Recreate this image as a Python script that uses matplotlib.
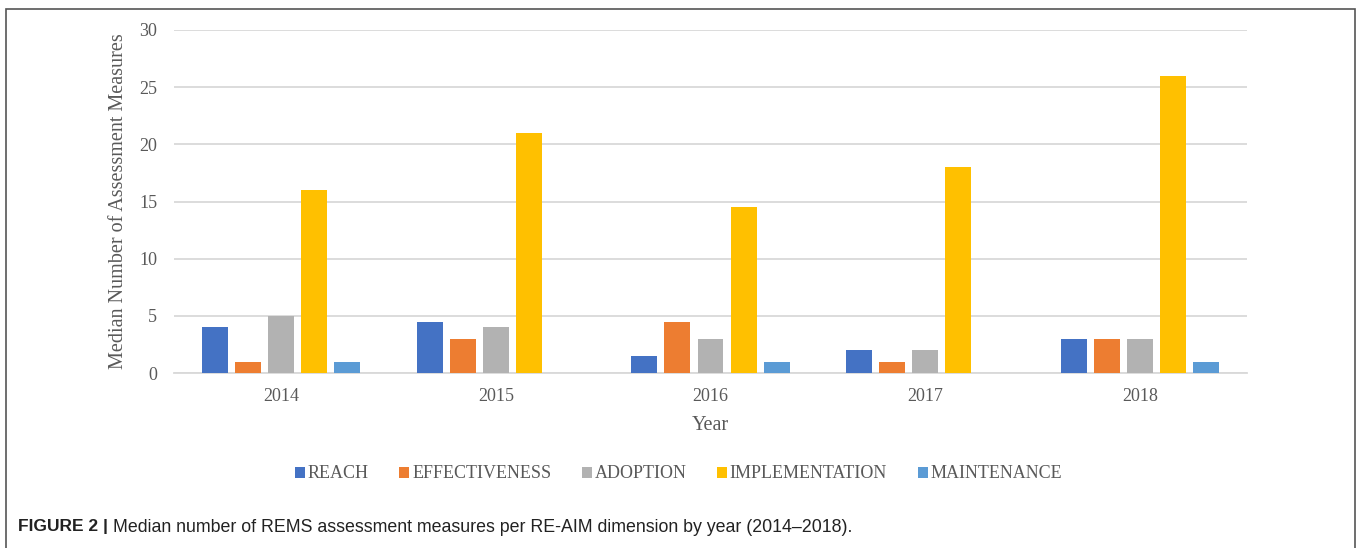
import matplotlib.pyplot as plt
import numpy as np
from matplotlib.patches import Rectangle

# data
years = ["2014", "2015", "2016", "2017", "2018"]
dimensions = ["REACH", "EFFECTIVENESS", "ADOPTION", "IMPLEMENTATION", "MAINTENANCE"]
reach = [4, 4.5, 1.5, 2, 3]
effectiveness = [1, 3, 4.5, 1, 3]
adoption = [5, 4, 3, 2, 3]
implementation = [16, 21, 14.5, 18, 26]
maintenance = [1, 0, 1, 0, 1]
colors = ["#4472C4", "#ED7D31", "#B2B2B2", "#FFC000", "#5B9BD5"]

series = [reach, effectiveness, adoption, implementation, maintenance]

fig = plt.figure(figsize=(13.57, 5.48), dpi=100)
ax = fig.add_axes([174/1357, 1-373/548, (1247-174)/1357, (373-30)/548])

x = np.arange(len(years))
step = 0.154
width = 0.121
for i, (vals, name) in enumerate(zip(series, dimensions)):
    ax.bar(x + (i-2)*step, vals, width, color=colors[i], label=name, zorder=3)

serif = "Liberation Serif"
ax.set_xlim(-0.5, 4.5)
ax.set_ylim(0, 30)
ax.set_yticks(range(0, 31, 5))
ax.set_xticks(x)
ax.set_xticklabels(years)
ax.yaxis.grid(True, color="#D9D9D9", linewidth=1.3, zorder=0)
for s in ["top", "right", "left"]:
    ax.spines[s].set_visible(False)
ax.spines["bottom"].set_color("#D9D9D9")
ax.spines["bottom"].set_linewidth(1.3)
ax.tick_params(length=0, labelsize=13, labelcolor="#595959")
ax.tick_params(axis="y", pad=12)
ax.tick_params(axis="x", pad=11)
for lab in ax.get_xticklabels() + ax.get_yticklabels():
    lab.set_fontfamily(serif)

ax.set_xlabel("Year", fontsize=14.5, family=serif, color="#595959", labelpad=8)
ax.set_ylabel("Median Number of Assessment Measures", fontsize=14.5, family=serif,
              color="#595959", labelpad=8)

fig.legend(loc="center", bbox_to_anchor=(0.5, 1-474/548), ncol=5, frameon=False,
           prop={"family": serif, "size": 13}, labelcolor="#595959",
           handlelength=0.55, handleheight=0.55, handletextpad=0.15,
           columnspacing=1.7)

# outer frame
fig.patches.append(Rectangle((6/1357, -0.05), (1355-6)/1357, 1.05-8.5/548,
                             transform=fig.transFigure, fill=False,
                             edgecolor="#555555", linewidth=1.2))

# caption: bold label, then the text right after it
bold = fig.text(18/1357, 1-527/548, "FIGURE 2 |", fontsize=12.5, fontweight="bold",
                family="Liberation Sans", va="center", color="#222222")
fig.canvas.draw()
bb = bold.get_window_extent(fig.canvas.get_renderer())
fig.text((bb.x1 + 5)/1357, 1-527/548,
         "Median number of REMS assessment measures per RE-AIM dimension by year (2014\u20132018).",
         fontsize=12.8, family="Liberation Sans", va="center", color="#222222")

fig.savefig("out.png", dpi=100)
